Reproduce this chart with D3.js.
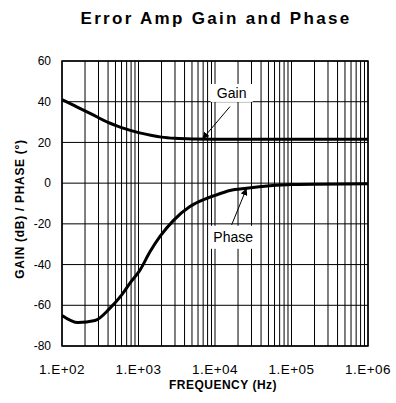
<!DOCTYPE html>
<html><head><meta charset="utf-8">
<script src="https://cdn.jsdelivr.net/npm/d3@7"></script>
<style>
body{margin:0;background:#fff;}
svg{display:block;font-family:Arial,"Liberation Sans",sans-serif;}
</style></head>
<body><svg id="c" width="396" height="403"></svg>
<script>
const gainFreq = [100,150,244,400,600,800,1000,1500,2000,3000,5000,10000,100000,1000000];
const gainDb   = [41,37.8,33.9,29.8,27.3,25.8,24.8,23.4,22.6,22.0,21.7,21.6,21.6,21.6];
const phaseFreq = [100,162,270,424,600,774,1050,1400,1910,2850,4700,7400,10000,15700,25800,52000,100000,1000000];
const phaseDeg  = [-65,-68.5,-67.5,-61.4,-55,-49.1,-42.6,-34,-26.2,-18.4,-11.5,-7.8,-6,-3.6,-2.5,-1.3,-0.7,-0.3];
const xTickVals = [1e2,1e3,1e4,1e5,1e6];
const xTickLabels = ["1.E+02","1.E+03","1.E+04","1.E+05","1.E+06"];
const yTicks = [-80,-60,-40,-20,0,20,40,60];
const annotations = [
  {text:"Gain", tf:16500, tv:44.3, af:15700, av:37.6, hf:6830, hv:21.6, w:42, h:18},
  {text:"Phase", tf:17300, tv:-26.6, af:16500, av:-20.5, hf:25900, hv:-2.5, w:47, h:23}
];

const svg = d3.select("#c");
const m = {l:62, r:28, t:61, b:57};
const W = 396, H = 403;
const x = d3.scaleLog().domain([1e2,1e6]).range([m.l, W-m.r]);
const y = d3.scaleLinear().domain([-80,60]).range([H-m.b, m.t]);

// vertical grid
const vg = [];
for (let k=2;k<6;k++) for (let i=1;i<10;i++) vg.push(i*Math.pow(10,k));
vg.push(1e6);
svg.append("g").selectAll("line").data(vg).join("line")
  .attr("x1",d=>x(d)).attr("x2",d=>x(d)).attr("y1",y(60)).attr("y2",y(-80))
  .attr("stroke","#000").attr("stroke-width",1);
svg.append("g").selectAll("line").data(yTicks).join("line")
  .attr("x1",x(1e2)).attr("x2",x(1e6)).attr("y1",d=>y(d)).attr("y2",d=>y(d))
  .attr("stroke","#000").attr("stroke-width",1);
svg.append("rect").attr("x",x(1e2)).attr("y",y(60)).attr("width",x(1e6)-x(1e2)).attr("height",y(-80)-y(60))
  .attr("fill","none").attr("stroke","#000").attr("stroke-width",1.5);

// axes labels
svg.append("g").selectAll("text").data(yTicks).join("text")
  .attr("x",m.l-11).attr("y",d=>y(d)).attr("dy","0.35em").attr("text-anchor","end")
  .attr("font-size",12).text(d=>d);
svg.append("g").selectAll("text").data(xTickVals).join("text")
  .attr("x",d=>x(d)).attr("y",H-m.b+28).attr("text-anchor","middle")
  .attr("font-size",13.5).attr("letter-spacing",0.5).text((d,i)=>xTickLabels[i]);

// curves
const line = d3.line().curve(d3.curveMonotoneX);
svg.append("path").attr("d",line(gainFreq.map((f,i)=>[x(f),y(gainDb[i])])))
  .attr("fill","none").attr("stroke","#000").attr("stroke-width",3);
svg.append("path").attr("d",line(phaseFreq.map((f,i)=>[x(f),y(phaseDeg[i])])))
  .attr("fill","none").attr("stroke","#000").attr("stroke-width",3);

// annotations
svg.append("defs").append("marker").attr("id","ah").attr("viewBox","0 0 10 10")
  .attr("refX",10).attr("refY",5).attr("markerWidth",7).attr("markerHeight",7)
  .attr("markerUnits","userSpaceOnUse").attr("orient","auto")
  .append("path").attr("d","M0,0L10,5L0,10z").attr("fill","#000");
annotations.forEach(a=>{
  svg.append("rect").attr("x",x(a.tf)-a.w/2).attr("y",y(a.tv)-a.h/2).attr("width",a.w).attr("height",a.h).attr("fill","#fff");
  svg.append("text").attr("x",x(a.tf)).attr("y",y(a.tv)).attr("dy","0.35em").attr("text-anchor","middle")
    .attr("font-size",14).text(a.text);
  svg.append("line").attr("x1",x(a.af)).attr("y1",y(a.av)).attr("x2",x(a.hf)).attr("y2",y(a.hv))
    .attr("stroke","#000").attr("stroke-width",1).attr("marker-end","url(#ah)");
});

// titles
svg.append("text").attr("x",216).attr("y",24).attr("text-anchor","middle")
  .attr("font-size",17).attr("font-weight","bold").attr("letter-spacing",2.3).text("Error Amp Gain and Phase");
svg.append("text").attr("x",(m.l+W-m.r)/2+8).attr("y",389).attr("text-anchor","middle")
  .attr("font-size",12).attr("font-weight","bold").attr("letter-spacing",0.5).text("FREQUENCY (Hz)");
svg.append("text").attr("transform","translate(24,209) rotate(-90)").attr("text-anchor","middle")
  .attr("font-size",12).attr("font-weight","bold").attr("letter-spacing",0.7).text("GAIN (dB) / PHASE (°)");
</script></body></html>
